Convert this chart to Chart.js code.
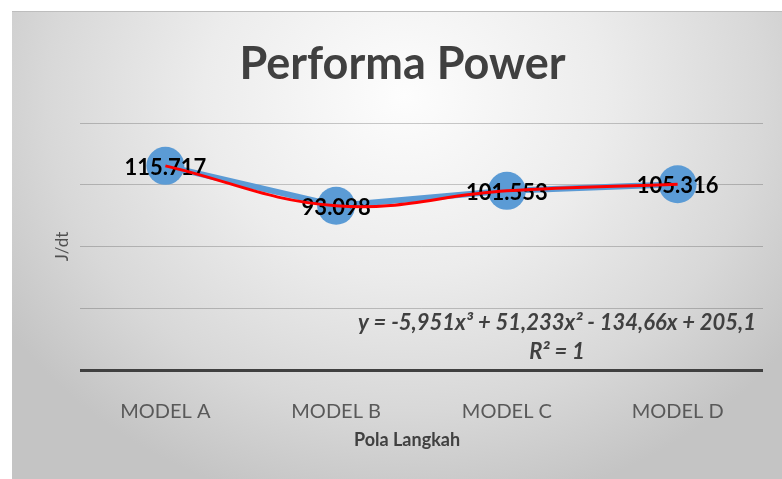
<!DOCTYPE html>
<html>
<head>
<meta charset="utf-8">
<script src="https://cdn.jsdelivr.net/npm/chart.js@4.4.0/dist/chart.umd.min.js"></script>
<style>
  html, body { margin: 0; padding: 0; background: #fff; }
  #wrap {
    position: absolute; left: 12px; top: 11px; width: 770px; height: 468px;
    background: radial-gradient(ellipse 62% 90% at 51% 18%, #fdfdfd 0%, #ececec 42%, #d8d8d8 75%, #c4c4c4 100%);
    box-shadow: inset 0 1px 0 #bdbdbd;
  }
  canvas { display: block; }
</style>
</head>
<body>
<div id="wrap"><canvas id="chart" width="770" height="468"></canvas></div>
<script>
// data
const categories = ["MODEL A", "MODEL B", "MODEL C", "MODEL D"];
const powerValues = [115.717, 93.098, 101.553, 105.316];
const yMin = 0, yMax = 140, yStep = 35;
const trendText = ["y = -5,951x³ + 51,233x² - 134,66x + 205,1", "R² = 1"];
const xTitle = "Pola Langkah";

const FONT = "Lato, 'Open Sans', sans-serif";

// value labels on the blue points (drawn before the red trendline)
const valueLabels = {
    id: "valueLabels",
    afterDatasetDraw(chart, args) {
        if (args.index !== 0) return;
        const ctx = chart.ctx;
        ctx.save();
        ctx.font = "bold 22px " + FONT;
        ctx.fillStyle = "#000";
        ctx.textAlign = "center";
        ctx.textBaseline = "middle";
        args.meta.data.forEach((pt, i) => {
            ctx.fillText(powerValues[i].toFixed(3), pt.x, pt.y + 2);
        });
        ctx.restore();
    }
};

// trendline equation + x axis title (centred on the whole chart like Excel)
const extraText = {
    id: "extraText",
    afterDraw(chart) {
        const { ctx, chartArea } = chart;
        ctx.save();
        ctx.textAlign = "center";
        ctx.textBaseline = "middle";
        ctx.font = "italic bold 22px " + FONT;
        ctx.fillStyle = "#404040";
        const cx = chartArea.right - 206;
        ctx.fillText(trendText[0], cx, chartArea.bottom - 47);
        ctx.fillText(trendText[1], cx, chartArea.bottom - 18);
        ctx.font = "bold 18px " + FONT;
        ctx.fillText(xTitle, chart.width / 2 + 10, chartArea.bottom + 70);
        ctx.restore();
    }
};

new Chart(document.getElementById("chart"), {
    type: "line",
    data: {
        labels: categories,
        datasets: [
            {
                label: "Power",
                data: powerValues,
                borderColor: "#5b9bd5",
                backgroundColor: "#5b9bd5",
                borderWidth: 6,
                pointRadius: 19,
                pointBorderWidth: 0,
                pointBackgroundColor: "#5b9bd5",
                tension: 0,
                clip: false,
                order: 2
            },
            {
                label: "Poly. (Power)",
                data: powerValues,
                borderColor: "#ff0000",
                borderWidth: 3,
                pointRadius: 0,
                tension: 0.4,
                clip: false,
                order: 1
            }
        ]
    },
    options: {
        responsive: false,
        animation: false,
        devicePixelRatio: 1,
        layout: { padding: { left: 30, right: 19, top: 0, bottom: 0 } },
        plugins: {
            legend: { display: false },
            tooltip: { enabled: false },
            title: {
                display: true,
                text: "Performa Power",
                color: "#404040",
                font: { family: FONT, size: 45, weight: "bold" },
                padding: { top: 26, bottom: 32 }
            }
        },
        scales: {
            x: {
                offset: true,
                grid: { display: false },
                border: { display: false },
                ticks: { color: "#595959", font: { family: FONT, size: 20 }, padding: 22 },
                afterFit(scale) { scale.height = 109; }
            },
            y: {
                min: yMin,
                max: yMax,
                ticks: { stepSize: yStep, display: false },
                border: { display: false },
                grid: {
                    drawTicks: false,
                    color: c => c.tick.value === 0 ? "#404040" : "rgba(0,0,0,0.2)",
                    lineWidth: c => c.tick.value === 0 ? 3 : 1
                },
                title: {
                    display: true,
                    text: "J/dt",
                    color: "#505050",
                    font: { family: FONT, size: 17 },
                    padding: { top: 10, bottom: 0 }
                },
                afterFit(scale) { scale.width = 38; }
            }
        }
    },
    plugins: [valueLabels, extraText]
});
</script>
</body>
</html>
